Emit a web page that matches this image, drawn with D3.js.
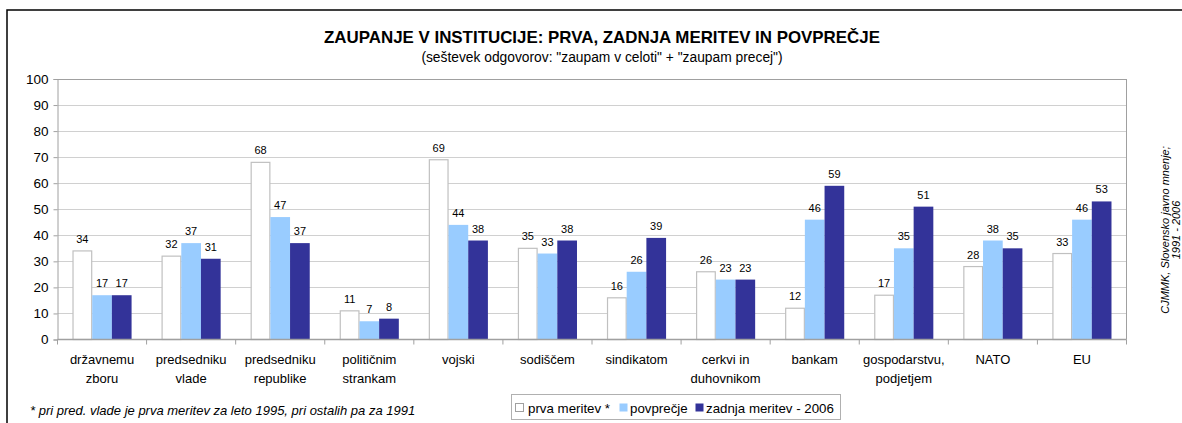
<!DOCTYPE html>
<html><head><meta charset="utf-8">
<script src="https://cdn.jsdelivr.net/npm/d3@7"></script>
<style>
body{margin:0;background:#fff;}
svg{display:block;font-family:Arial,"Liberation Sans",sans-serif;}
</style></head><body>
<svg id="c" width="1182" height="423"></svg>
<script>
const categories = [
  ["državnemu","zboru"],["predsedniku","vlade"],["predsedniku","republike"],["političnim","strankam"],
  ["vojski"],["sodiščem"],["sindikatom"],["cerkvi in","duhovnikom"],["bankam"],
  ["gospodarstvu,","podjetjem"],["NATO"],["EU"]
];
const seriesNames = ["prva meritev *","povprečje","zadnja meritev - 2006"];
const prvaMeritev = [34,32,68,11,69,35,16,26,12,17,28,33];
const povprecje   = [17,37,47,7,44,33,26,23,46,35,38,46];
const zadnja      = [17,31,37,8,38,38,39,23,59,51,35,53];
const yTicks = [0,10,20,30,40,50,60,70,80,90,100];
const seriesColors = ["#ffffff","#99ccff","#333399"];
const series = [prvaMeritev, povprecje, zadnja];

const svg = d3.select("#c");
// outer frame
svg.append("rect").attr("x",7).attr("y",10).attr("width",1200).attr("height",440)
  .attr("fill","none").attr("stroke","#000").attr("stroke-width",1.5);

svg.append("text").attr("x",602).attr("y",43).attr("text-anchor","middle")
  .attr("font-size",16.9).attr("font-weight","bold").attr("fill","#000")
  .text("ZAUPANJE V INSTITUCIJE: PRVA, ZADNJA MERITEV IN POVPREČJE");
svg.append("text").attr("x",602).attr("y",62).attr("text-anchor","middle")
  .attr("font-size",13.8).attr("fill","#000")
  .text('(seštevek odgovorov: "zaupam v celoti" + "zaupam precej")');

const L=57.5, R=1126.5, T=79, B=339.5;
const x0 = d3.scaleBand().domain(d3.range(categories.length)).range([L,R]).paddingInner(0.337).paddingOuter(0.337/2);
const x1 = d3.scaleBand().domain(d3.range(3)).range([0,x0.bandwidth()]);
const y = d3.scaleLinear().domain([0,100]).range([B,T]);

// gridlines
svg.append("g").selectAll("line").data(yTicks.filter(d=>d>0)).join("line")
  .attr("x1",L).attr("x2",R).attr("y1",d=>Math.round(y(d))+0.5).attr("y2",d=>Math.round(y(d))+0.5)
  .attr("stroke",d=>d===100?"#a0a0a0":"#d0d0d0").attr("stroke-width",1);
// right border
svg.append("line").attr("x1",R).attr("x2",R).attr("y1",T).attr("y2",B).attr("stroke","#a0a0a0");

// bars
const step = x0.step();
categories.forEach((c,i)=>{
  series.forEach((s,j)=>{
    const bx = x0(i)+x1(j), by = y(s[i]);
    svg.append("rect").attr("x",bx+(j===0?0.5:0)).attr("y",by).attr("width",x1.bandwidth()-(j===0?1:0)).attr("height",B-by)
      .attr("fill",seriesColors[j]).attr("stroke",j===0?"#c0c0c0":"none").attr("stroke-width",1.2);
    svg.append("text").attr("x",bx+x1.bandwidth()/2).attr("y",by-8).attr("text-anchor","middle")
      .attr("font-size",11).attr("fill","#000").text(s[i]);
  });
});

// y axis
const yAxis = d3.axisLeft(y).tickValues(yTicks).tickSize(4).tickPadding(5);
const gy = svg.append("g").attr("transform",`translate(${L},0)`).call(yAxis);
gy.select(".domain").attr("stroke","#a0a0a0");
gy.selectAll(".tick line").attr("stroke","#a0a0a0");
gy.selectAll("text").attr("font-size",13.5).attr("fill","#000").attr("font-family","Arial, Liberation Sans, sans-serif");

// x axis
svg.append("line").attr("x1",L).attr("x2",R).attr("y1",B).attr("y2",B).attr("stroke","#a0a0a0").attr("stroke-width",1.5);
svg.append("g").selectAll("line").data(d3.range(categories.length+1)).join("line")
  .attr("x1",d=>L+d*step).attr("x2",d=>L+d*step).attr("y1",B).attr("y2",B+5).attr("stroke","#a0a0a0");
const gx = svg.append("g");
categories.forEach((c,i)=>{
  const t = gx.append("text").attr("x",x0(i)+x0.bandwidth()/2).attr("y",364).attr("text-anchor","middle")
    .attr("font-size",13).attr("fill","#000");
  c.forEach((ln,k)=>t.append("tspan").attr("x",x0(i)+x0.bandwidth()/2).attr("dy",k===0?0:19).text(ln));
});

// footnote
svg.append("text").attr("x",30).attr("y",415).attr("font-size",13).attr("font-style","italic").attr("fill","#000")
  .text("* pri pred. vlade je prva meritev za leto 1995, pri ostalih pa za 1991");

// legend
const lg = svg.append("g");
lg.append("rect").attr("x",511.5).attr("y",394.5).attr("width",329).attr("height",25).attr("fill","#fff").attr("stroke","#b0b0b0");
const legX = [[515,528],[619,630],[695,706]];
seriesNames.forEach((n,j)=>{
  lg.append("rect").attr("x",legX[j][0]+0.5).attr("y",403.5).attr("width",8).attr("height",8)
    .attr("fill",seriesColors[j]).attr("stroke",j===0?"#a0a0a0":"none");
  lg.append("text").attr("x",legX[j][1]).attr("y",413).attr("font-size",13.3).attr("fill","#000").text(n);
});

// source vertical text
const src = svg.append("text").attr("transform","translate(1169,230) rotate(-90)").attr("text-anchor","middle")
  .attr("font-size",11).attr("font-style","italic").attr("fill","#000");
src.append("tspan").attr("x",0).attr("dy",0).text("CJMMK, Slovensko javno mnenje;");
src.append("tspan").attr("x",0).attr("dy",10.5).text("1991 - 2006");
</script>
</body></html>
